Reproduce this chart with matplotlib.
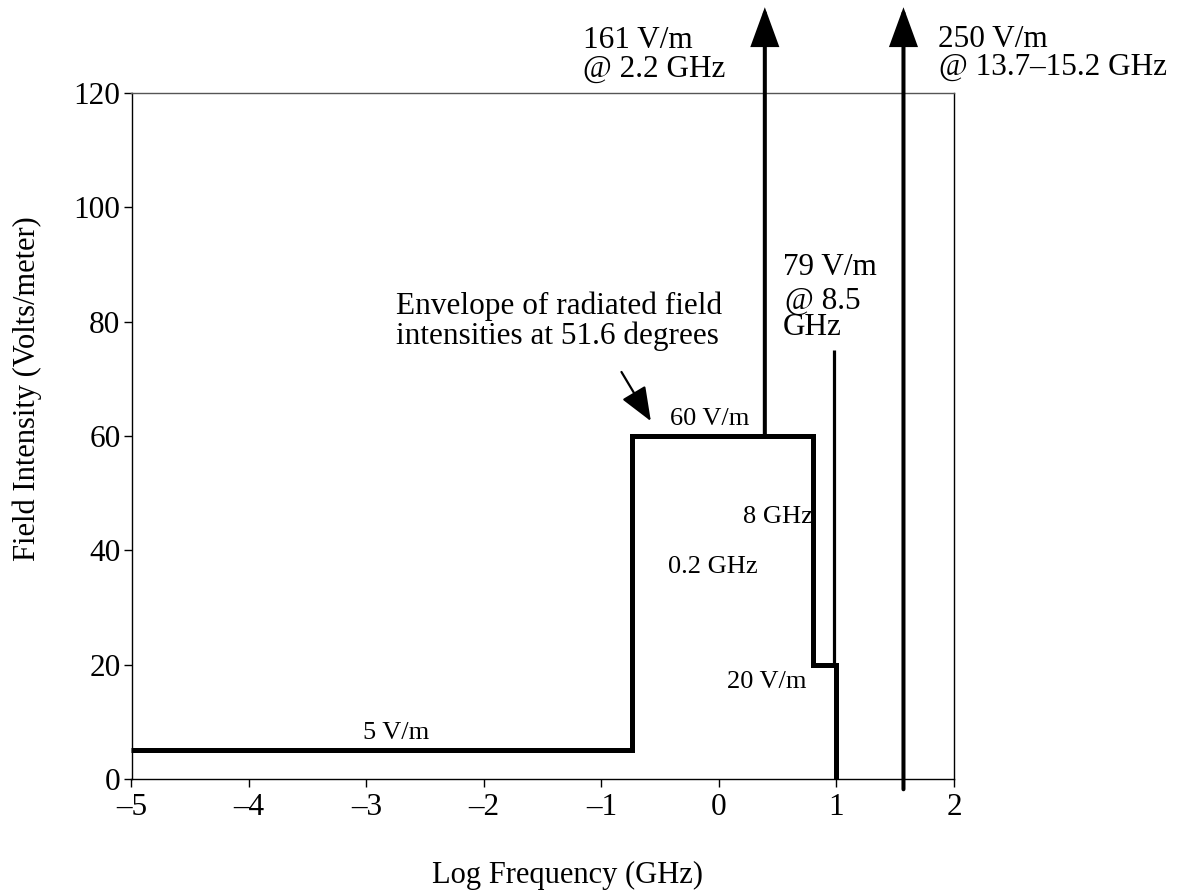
import matplotlib
matplotlib.use("Agg")
import matplotlib.pyplot as plt

plt.rcParams['font.family'] = ['Liberation Serif', 'DejaVu Serif']

# ---- data ----
x_ticks = [-5, -4, -3, -2, -1, 0, 1, 2]
x_tick_labels = ['\u20135', '\u20134', '\u20133', '\u20132', '\u20131', '0', '1', '2']
y_ticks = [0, 20, 40, 60, 80, 100, 120]
y_tick_labels = ['0', '20', '40', '60', '80', '100', '120']

# envelope of radiated field intensities (log GHz, V/m)
env_x = [-5, -0.74, -0.74, 0.80, 0.80, 1.0, 1.0]
env_y = [5, 5, 60, 60, 20, 20, 0]

# 79 V/m @ 8.5 GHz spike
spike79_x = [0.98, 0.98]
spike79_y = [20, 75]

# arrows going off scale: (x, y_start, y_tip)
arrow161 = (0.39, 60, 135)
arrow250 = (1.57, -1.8, 135)

# pointer for the envelope note: (x0, y0) -> (x1, y1)
pointer_start = (-0.83, 71.2)
pointer_end = (-0.58, 62.6)

# labels: (text, x, y_baseline, size)
big_labels = [
    ("161 V/m", -1.157, 127.9),
    ("@ 2.2 GHz", -1.157, 122.8),
    ("250 V/m", 1.86, 128.1),
    ("@ 13.7\u201315.2 GHz", 1.875, 123.1),
    ("79 V/m", 0.546, 88.1),
    ("@ 8.5", 0.563, 82.3),
    ("GHz", 0.546, 77.6),
    ("Envelope of radiated field", -2.75, 81.3),
    ("intensities at 51.6 degrees", -2.75, 76.1),
]
small_labels = [
    ("60 V/m", -0.414, 62.0),
    ("8 GHz", 0.204, 44.8),
    ("0.2 GHz", -0.434, 36.0),
    ("20 V/m", 0.068, 15.9),
    ("5 V/m", -3.03, 7.0),
]

# ---- figure ----
fig = plt.figure(figsize=(11.77, 8.93), dpi=100)
ax = fig.add_axes([131.5 / 1177, 1 - 779 / 893, (954 - 131.5) / 1177, (779 - 93) / 893])
ax.set_xlim(-5, 2)
ax.set_ylim(0, 120)

ax.plot(env_x, env_y, color='black', lw=3.6, solid_capstyle='butt',
        solid_joinstyle='miter', clip_on=False, zorder=3)
ax.plot(spike79_x, spike79_y, color='black', lw=2.3, solid_capstyle='butt',
        clip_on=False, zorder=3)

for (xa, y0, y1) in (arrow161, arrow250):
    ax.annotate('', xy=(xa, y1), xytext=(xa, y0), annotation_clip=False,
                arrowprops=dict(arrowstyle='-|>,head_length=1.15,head_width=0.42',
                                mutation_scale=20, lw=2.9, color='black',
                                shrinkA=0, shrinkB=0, joinstyle='miter'),
                zorder=4)

ax.annotate('', xy=pointer_end, xytext=pointer_start, annotation_clip=False,
            arrowprops=dict(arrowstyle='-|>,head_length=1.05,head_width=0.42',
                            mutation_scale=20, lw=1.6, color='black',
                            shrinkA=0, shrinkB=0),
            zorder=4)

for (t, xx, yy) in big_labels:
    ax.text(xx, yy, t, fontsize=22.5, ha='left', va='baseline', clip_on=False)
for (t, xx, yy) in small_labels:
    ax.text(xx, yy, t, fontsize=19, ha='left', va='baseline', clip_on=False)

ax.set_xticks(x_ticks)
ax.set_xticklabels(x_tick_labels)
ax.set_yticks(y_ticks)
ax.set_yticklabels(y_tick_labels)
ax.tick_params(axis='both', direction='out', length=6, width=1, labelsize=22.5,
               color='black')
ax.tick_params(axis='x', pad=4)
ax.tick_params(axis='y', pad=2)
ax.tick_params(top=False, right=False)

for s in ['left', 'bottom', 'right']:
    ax.spines[s].set_linewidth(1.0)
    ax.spines[s].set_color('black')
ax.spines['top'].set_linewidth(1.0)
ax.spines['top'].set_color('#555555')

fig.text(567.5 / 1177, 1 - 875 / 893, 'Log Frequency (GHz)', fontsize=22,
         ha='center', va='center')
fig.text(27.5 / 1177, 1 - 389 / 893, 'Field Intensity (Volts/meter)', fontsize=22,
         ha='center', va='center', rotation=90)

fig.savefig('out.png', dpi=100)
